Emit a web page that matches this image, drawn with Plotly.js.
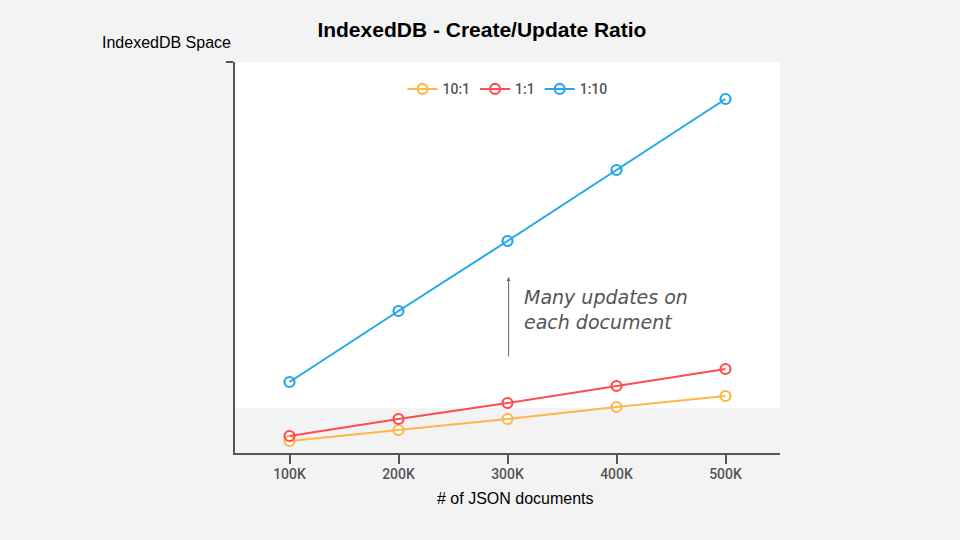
<!DOCTYPE html>
<html>
<head>
<meta charset="utf-8">
<script src="https://cdn.plot.ly/plotly-3.0.1.min.js"></script>
<style>html,body{margin:0;padding:0;background:#f3f3f3;}#chart{width:960px;height:540px;}</style>
</head>
<body>
<div id="chart"></div>
<script>
const docs = [100000, 200000, 300000, 400000, 500000];
const tickLabels = ['100K', '200K', '300K', '400K', '500K'];
const seriesNames = ['10:1', '1:1', '1:10'];
const space10to1 = [12, 23, 34, 46, 57];
const space1to1 = [17, 34, 50, 67, 84];
const space1to10 = [71, 142, 212, 283, 354];
const colors = ['#ffb547', '#ff4d4f', '#22a7e8'];

const seriesValues = [space10to1, space1to1, space1to10];
const traces = seriesValues.map((vals, i) => ({
  x: docs, y: vals, name: seriesNames[i], type: 'scatter', mode: 'lines+markers',
  line: {color: colors[i], width: 2},
  marker: {symbol: 'circle-open', size: 10, color: colors[i], line: {width: 2.2, color: colors[i]}},
  cliponaxis: false
}));
const fills = seriesValues.map((vals, i) => ({
  x: docs, y: vals, type: 'scatter', mode: 'markers', showlegend: false, hoverinfo: 'skip',
  marker: {symbol: 'circle', size: 9, color: '#ffffff'}
}));

const layout = {
  width: 960, height: 540,
  paper_bgcolor: '#f3f3f3', plot_bgcolor: 'rgba(0,0,0,0)',
  margin: {l: 235, r: 180, t: 62, b: 87},
  title: {text: '<b>IndexedDB - Create/Update Ratio</b>', x: 0.502, xanchor: 'center', y: 0.946, yanchor: 'middle',
    font: {family: 'Liberation Sans, Arial', size: 21, color: '#000'}},
  showlegend: true,
  legend: {orientation: 'h', x: 0.5, xanchor: 'center', y: 0.93, yanchor: 'middle',
    font: {family: 'Roboto', size: 14, color: '#555', weight: 500}, bgcolor: 'rgba(0,0,0,0)', itemwidth: 30,
    traceorder: 'normal'},
  xaxis: {range: [50000, 550000], tickvals: docs, ticktext: tickLabels, showgrid: false, zeroline: false,
    showline: true, linecolor: '#555', linewidth: 2, ticks: 'outside', ticklen: 9, tickwidth: 1.5, tickcolor: '#555',
    tickfont: {family: 'Roboto', size: 14, color: '#555', weight: 500}, ticklabelstandoff: -2},
  yaxis: {range: [0, 391], tickvals: [391], ticktext: [''], showgrid: false, zeroline: false,
    showline: true, linecolor: '#555', linewidth: 2, ticks: 'outside', ticklen: 7, tickwidth: 1.5, tickcolor: '#555'},
  shapes: [{type: 'rect', xref: 'x', yref: 'y', x0: 50500, x1: 553000, y0: 45, y1: 392,
    fillcolor: '#ffffff', line: {width: 0}, layer: 'below'}],
  annotations: [
    {xref: 'paper', yref: 'paper', x: -0.247, y: 1.05, xanchor: 'left', yanchor: 'middle', showarrow: false,
      text: 'IndexedDB Space', font: {family: 'Liberation Sans, Arial', size: 16, color: '#000'}},
    {xref: 'paper', yref: 'paper', x: (515 - 235) / 545, y: -(498 - 453) / 391, xanchor: 'center', yanchor: 'middle', showarrow: false,
      text: '# of JSON documents', font: {family: 'Liberation Sans, Arial', size: 16, color: '#000'}},
    {x: 301000, y: 176, ax: 301000, ay: 95, xref: 'x', yref: 'y', axref: 'x', ayref: 'y',
      showarrow: true, arrowhead: 2, arrowsize: 0.8, arrowwidth: 1, arrowcolor: '#666', text: ''},
    {x: 313000, y: 144, xref: 'x', yref: 'y', xanchor: 'left', yanchor: 'middle', showarrow: false, align: 'left',
      text: 'Many updates on<br>each document',
      font: {family: 'DejaVu Sans', size: 19, color: '#555', style: 'italic'}}
  ]
};
Plotly.newPlot('chart', fills.concat(traces), layout, {displayModeBar: false});
</script>
</body>
</html>
